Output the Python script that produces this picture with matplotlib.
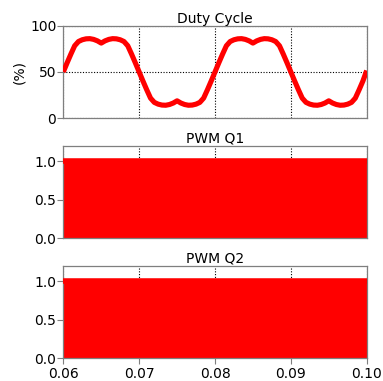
import matplotlib
matplotlib.use("Agg")
import matplotlib.pyplot as plt
import numpy as np

# Duty cycle (%) sampled every 0.5 ms from 0.06 s to 0.10 s
duty_time = [round(0.06 + 0.0005 * i, 4) for i in range(81)]
duty_pct = [
    50.0, 59.8, 69.3, 78.3, 82.9, 84.8, 85.8, 86.0, 85.2, 83.6,
    81.2, 83.6, 85.2, 86.0, 85.8, 84.8, 82.9, 78.3, 69.3, 59.8,
    50.0, 40.2, 30.7, 21.7, 17.1, 15.2, 14.2, 14.0, 14.8, 16.4,
    18.8, 16.4, 14.8, 14.0, 14.2, 15.2, 17.1, 21.7, 30.7, 40.2,
    50.0, 59.8, 69.3, 78.3, 82.9, 84.8, 85.8, 86.0, 85.2, 83.6,
    81.2, 83.6, 85.2, 86.0, 85.8, 84.8, 82.9, 78.3, 69.3, 59.8,
    50.0, 40.2, 30.7, 21.7, 17.1, 15.2, 14.2, 14.0, 14.8, 16.4,
    18.8, 16.4, 14.8, 14.0, 14.2, 15.2, 17.1, 21.7, 30.7, 40.2,
    51.5,
]

# PWM signals switch so fast they appear as a solid band from 0 to 1
pwm_time = [0.06, 0.10]
pwm_q1_high = [1.0, 1.0]
pwm_q2_high = [1.0, 1.0]

x_ticks = [0.06, 0.07, 0.08, 0.09, 0.10]
x_tick_labels = ["0.06", "0.07", "0.08", "0.09", "0.10"]
duty_ticks = [0, 50, 100]
pwm_ticks = [0.0, 0.5, 1.0]
pwm_tick_labels = ["0.0", "0.5", "1.0"]

plt.rcParams['font.family'] = ['DejaVu Sans']
fig = plt.figure(figsize=(3.83, 3.81), dpi=100)

L, W = 63.3 / 383, (366.7 - 63.3) / 383
H = 92.5 / 381
tops = [25.7, 145.7, 265.7]
axes = [fig.add_axes([L, 1 - (t + 92.5) / 381, W, H]) for t in tops]

red = '#ff0000'
gray = '#7f7f7f'
fs = 10

def style(ax, last):
    ax.set_xlim(0.06, 0.10)
    ax.set_xticks(x_ticks)
    ax.grid(True, linestyle=(0, (1, 1.5)), color='black', linewidth=0.8, zorder=0)
    ax.set_axisbelow(True)
    ax.tick_params(axis='y', labelsize=fs, direction='out', length=4, width=0.8,
                   pad=1, color=gray)
    if last:
        ax.set_xticklabels(x_tick_labels)
        ax.tick_params(axis='x', labelsize=fs, direction='out', length=4, width=0.8,
                       pad=2, color=gray)
    else:
        ax.set_xticklabels([])
        ax.tick_params(axis='x', length=0)
    for s in ax.spines.values():
        s.set_linewidth(0.9)
        s.set_color(gray)

ax = axes[0]
ax.plot(duty_time, duty_pct, color=red, lw=3.7, solid_capstyle='butt', zorder=3)
ax.set_ylim(0, 100)
ax.set_yticks(duty_ticks)
ax.set_ylabel("(%)", fontsize=fs, labelpad=3)
ax.set_title("Duty Cycle", fontsize=fs, pad=2)
style(ax, False)

for ax, level, title, last in [(axes[1], pwm_q1_high, "PWM Q1", False),
                               (axes[2], pwm_q2_high, "PWM Q2", True)]:
    ax.fill_between(pwm_time, 0, level, color=red, lw=0, zorder=2)
    ax.plot(pwm_time, level, color=red, lw=4.0, zorder=3, solid_capstyle='butt')
    ax.set_ylim(0, 1.2)
    ax.set_yticks(pwm_ticks)
    ax.set_yticklabels(pwm_tick_labels)
    ax.set_title(title, fontsize=fs, pad=2)
    style(ax, last)

fig.savefig("out.png", dpi=100)
